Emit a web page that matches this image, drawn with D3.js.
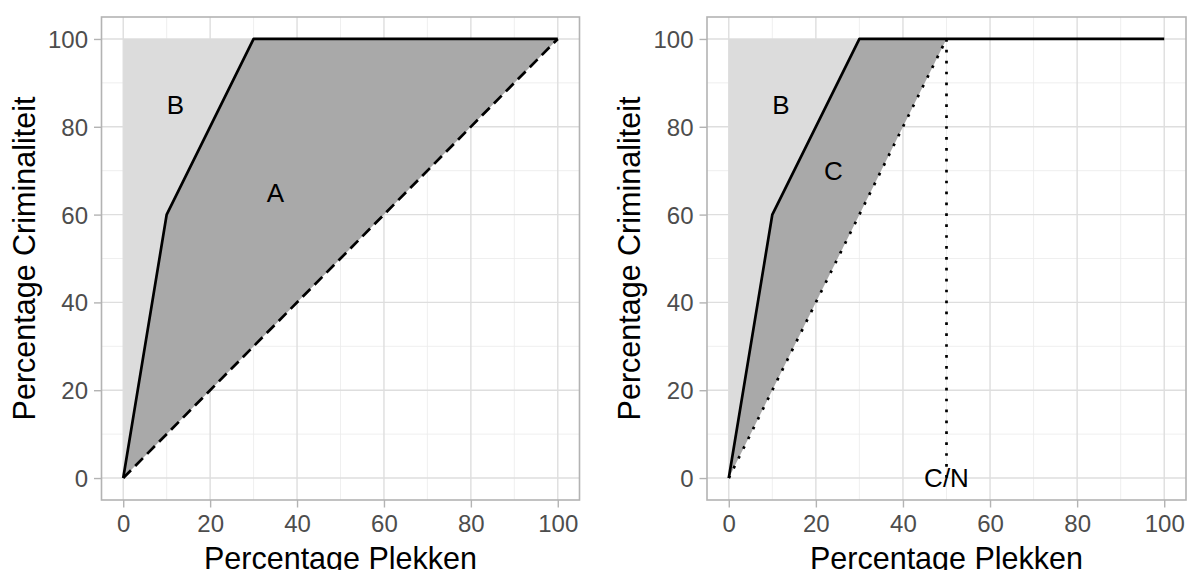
<!DOCTYPE html>
<html>
<head>
<meta charset="utf-8">
<script src="https://cdn.jsdelivr.net/npm/d3@7"></script>
<style>
  html, body { margin: 0; padding: 0; background: #fff; }
  svg { display: block; font-family: "Liberation Sans", Arial, sans-serif; }
</style>
</head>
<body>
<svg id="chart" width="1190" height="570"></svg>
<script>
// ---- data ----
const curvePlekken = [0, 10, 30, 100];        // % places
const curveCrim    = [0, 60, 100, 100];       // % crime
const diagPlekken  = [0, 100];                 // equality line (left)
const diagCrim     = [0, 100];
const cnPlekken    = [0, 50];                  // C/N line (right)
const cnCrim       = [0, 100];
const cnValue      = 50;
const majorTicks   = [0, 20, 40, 60, 80, 100];
const minorTicks   = [10, 30, 50, 70, 90];
const leftLabels   = [{t: "B", x: 12, y: 85}, {t: "A", x: 35, y: 65}];
const rightLabels  = [{t: "B", x: 12, y: 85}, {t: "C", x: 24, y: 70}];
const xTitle = "Percentage Plekken";
const yTitle = "Percentage Criminaliteit";

const svg = d3.select("#chart");
const pTop = 17, pBottom = 500;
const yScale = d3.scaleLinear().domain([-5, 105]).range([pBottom, pTop]);

function panel(left, right, kind) {
  const x = d3.scaleLinear().domain([-5, 105]).range([left, right]);
  const y = yScale;
  const g = svg.append("g");

  // grid
  const grid = g.append("g");
  minorTicks.forEach(v => {
    grid.append("line").attr("x1", x(v)).attr("x2", x(v)).attr("y1", pTop).attr("y2", pBottom)
      .attr("stroke", "#ebebeb").attr("stroke-width", 0.8);
    grid.append("line").attr("y1", y(v)).attr("y2", y(v)).attr("x1", left).attr("x2", right)
      .attr("stroke", "#ebebeb").attr("stroke-width", 0.8);
  });
  majorTicks.forEach(v => {
    grid.append("line").attr("x1", x(v)).attr("x2", x(v)).attr("y1", pTop).attr("y2", pBottom)
      .attr("stroke", "#dedede").attr("stroke-width", 1.4);
    grid.append("line").attr("y1", y(v)).attr("y2", y(v)).attr("x1", left).attr("x2", right)
      .attr("stroke", "#dedede").attr("stroke-width", 1.4);
  });

  const curvePts = curvePlekken.map((p, i) => [p, curveCrim[i]]);
  const line = d3.line().x(d => x(d[0])).y(d => y(d[1]));

  // light region B: between y axis and curve (up to where curve reaches 100)
  const bPts = [[0, 0], [0, 100]].concat(curvePts.filter(d => d[0] <= 30).slice().reverse());
  g.append("path").attr("d", line(bPts) + "Z").attr("fill", "#dcdcdc");

  // dark region
  let darkPts;
  if (kind === "left") {
    darkPts = curvePts.concat([[diagPlekken[0], diagCrim[0]]]);
  } else {
    darkPts = curvePts.filter(d => d[0] <= 30).concat([[cnPlekken[1], cnCrim[1]], [cnPlekken[0], cnCrim[0]]]);
  }
  g.append("path").attr("d", line(darkPts) + "Z").attr("fill", "#a9a9a9");

  // reference lines
  if (kind === "left") {
    g.append("path").attr("d", line(diagPlekken.map((p, i) => [p, diagCrim[i]])))
      .attr("fill", "none").attr("stroke", "#000").attr("stroke-width", 2.7)
      .attr("stroke-dasharray", "11,6");
  } else {
    g.append("path").attr("d", line(cnPlekken.map((p, i) => [p, cnCrim[i]])))
      .attr("fill", "none").attr("stroke", "#000").attr("stroke-width", 2.7)
      .attr("stroke-dasharray", "2.7,8.2");
    g.append("path").attr("d", line([[cnValue, 100], [cnValue, 0]]))
      .attr("fill", "none").attr("stroke", "#000").attr("stroke-width", 2.7)
      .attr("stroke-dasharray", "2.7,8.2");
  }

  // curve
  g.append("path").attr("d", line(curvePts))
    .attr("fill", "none").attr("stroke", "#000").attr("stroke-width", 2.7)
    .attr("stroke-linejoin", "round");

  // labels
  const labs = kind === "left" ? leftLabels : rightLabels;
  labs.forEach(l => {
    g.append("text").attr("x", x(l.x)).attr("y", y(l.y) + 9.3)
      .attr("text-anchor", "middle").attr("font-size", 26).attr("fill", "#000").text(l.t);
  });
  if (kind === "right") {
    g.append("text").attr("x", x(cnValue)).attr("y", y(0) + 9.3)
      .attr("text-anchor", "middle").attr("font-size", 26).attr("fill", "#000").text("C/N");
  }

  // panel border
  g.append("rect").attr("x", left).attr("y", pTop).attr("width", right - left).attr("height", pBottom - pTop)
    .attr("fill", "none").attr("stroke", "#b3b3b3").attr("stroke-width", 1.6);

  // axes
  const xAxis = d3.axisBottom(x).tickValues(majorTicks).tickSize(7.5).tickPadding(6);
  const xa = g.append("g").attr("transform", `translate(0,${pBottom})`).call(xAxis);
  const yAxis = d3.axisLeft(y).tickValues(majorTicks).tickSize(7.5).tickPadding(6);
  const ya = g.append("g").attr("transform", `translate(${left},0)`).call(yAxis);
  [xa, ya].forEach(a => {
    a.select(".domain").remove();
    a.selectAll(".tick line").attr("stroke", "#b3b3b3").attr("stroke-width", 1.4);
    a.selectAll(".tick text").attr("fill", "#4d4d4d").attr("font-size", 24)
      .attr("font-family", "Liberation Sans, Arial, sans-serif");
  });
  xa.selectAll(".tick text").attr("dy", null).attr("y", 32);
  ya.selectAll(".tick text").attr("dy", null).attr("transform", "translate(0,8.5)");

  // titles
  g.append("text").attr("x", (left + right) / 2).attr("y", 569)
    .attr("text-anchor", "middle").attr("font-size", 30.5).attr("fill", "#000").text(xTitle);
  const ty = (pTop + pBottom) / 2;
  const tx = left - 67;
  g.append("text").attr("transform", `translate(${tx},${ty}) rotate(-90)`)
    .attr("text-anchor", "middle").attr("font-size", 30.5).attr("fill", "#000").text(yTitle);
}

panel(101.5, 579.5, "left");
panel(707, 1186, "right");
</script>
</body>
</html>
